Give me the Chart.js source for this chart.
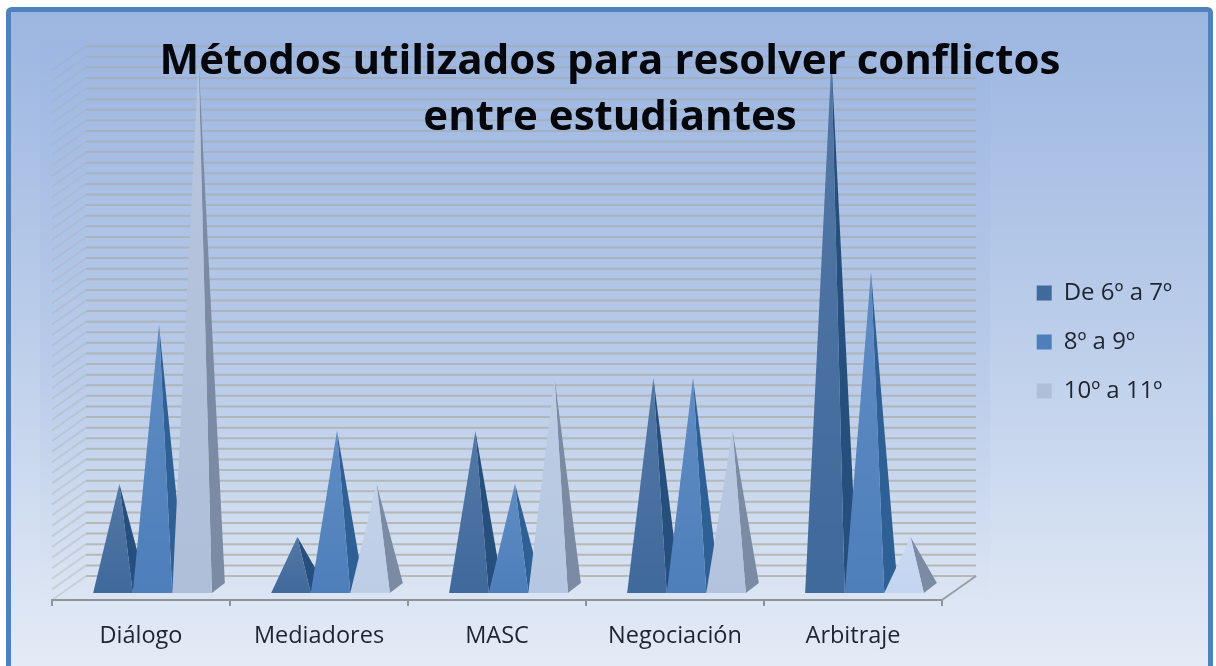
<!DOCTYPE html>
<html lang="es">
<head>
<meta charset="utf-8">
<title>Métodos utilizados para resolver conflictos entre estudiantes</title>
<style>html,body{margin:0;padding:0;background:#fff}canvas{display:block}</style>
<script src="https://cdn.jsdelivr.net/npm/chart.js@4/dist/chart.umd.js"></script>
</head>
<body>
<canvas id="c" width="1216" height="666"></canvas>
<script>
const titleLines = ['Métodos utilizados para resolver conflictos', 'entre estudiantes'];
const categories = ['Diálogo', 'Mediadores', 'MASC', 'Negociación', 'Arbitraje'];
const seriesNames = ['De 6º a 7º', '8º a 9º', '10º a 11º'];
const grade6to7 = [2, 1, 3, 4, 10];
const grade8to9 = [5, 3, 2, 4, 6];
const grade10to11 = [10, 2, 4, 3, 1];

// Styles
const darkFront = '#40699C', midFront = '#4E7FBB';
const lightFronts = ['#AFBFD9', '#BCCDE6', '#B6C7E1', '#B3C3DE', '#C3D5F0'];
const sides = ['#264F7E', '#2E5F95', '#7C8BA4'];
const GROUP_SHIFT = 11.5, BASE_UP = 7, SIDE_DX = 13, SIDE_DY = 10, APEX_DX = 6.5, APEX_UP = 10;
const WALL_DX = 34, WALL_DY = 24;

class PyramidElement extends Chart.BarElement {
  draw(ctx) {
    const {x, y, base, width} = this.getProps(['x', 'y', 'base', 'width'], false);
    const L = x - width / 2 + GROUP_SHIFT, R = x + width / 2 + GROUP_SHIFT;
    const by = base - BASE_UP;
    const ax = (L + R) / 2 + APEX_DX, ay = y - APEX_UP;
    ctx.save();
    ctx.fillStyle = this.options.borderColor;
    ctx.beginPath();
    ctx.moveTo(R, by); ctx.lineTo(R + SIDE_DX, by - SIDE_DY); ctx.lineTo(ax, ay); ctx.closePath();
    ctx.fill();
    ctx.fillStyle = this.options.backgroundColor;
    ctx.beginPath();
    ctx.moveTo(L, by); ctx.lineTo(R, by); ctx.lineTo(ax, ay); ctx.closePath();
    ctx.fill();
    const sheen = ctx.createLinearGradient(0, by, 0, ay);
    sheen.addColorStop(0, 'rgba(255,255,255,0)');
    sheen.addColorStop(1, 'rgba(255,255,255,0.10)');
    ctx.fillStyle = sheen;
    ctx.fill();
    ctx.restore();
  }
}
PyramidElement.id = 'pyramid';
PyramidElement.defaults = Chart.BarElement.defaults;
PyramidElement.defaultRoutes = Chart.BarElement.defaultRoutes;
class PyramidController extends Chart.BarController {}
PyramidController.id = 'pyramid';
PyramidController.defaults = Object.assign({}, Chart.BarController.defaults, {dataElementType: 'pyramid'});
PyramidController.overrides = Chart.BarController.overrides;
Chart.register(PyramidElement, PyramidController);

const stage = {
  id: 'stage',
  beforeLayout(chart) {
    const block = chart.titleBlock;
    if (block) block._layers = () => [{z: 5, draw(area) { block.draw(area); }}];
  },
  beforeDraw(chart) {
    const ctx = chart.ctx;
    ctx.save();
    const g = ctx.createLinearGradient(0, 10, 0, 666);
    g.addColorStop(0, '#9CB6E1');
    g.addColorStop(0.5, '#BCCEEA');
    g.addColorStop(1, '#E4EBF6');
    ctx.beginPath();
    ctx.roundRect(8.5, 9.5, 1202, 680, 3);
    ctx.fillStyle = g;
    ctx.fill();
    ctx.lineWidth = 5;
    ctx.strokeStyle = '#4F81BD';
    ctx.stroke();
    ctx.restore();
  },
  beforeDatasetDraw() { return false; },
  beforeDatasetsDraw(chart) {
    const ctx = chart.ctx, s = chart.scales.y, a = chart.chartArea;
    ctx.save();
    const wall = ctx.createLinearGradient(0, a.top - 30, 0, a.bottom + 6);
    wall.addColorStop(0, 'rgba(110,140,215,0.04)');
    wall.addColorStop(0.6, 'rgba(110,140,215,0.08)');
    wall.addColorStop(1, 'rgba(110,140,215,0)');
    ctx.fillStyle = wall;
    ctx.fillRect(a.left - 12, a.top - 30, a.right - a.left + 60, a.bottom - a.top + 36);
    ctx.lineWidth = 2;
    const n = s.ticks.length;
    s.ticks.forEach((t, i) => {
      const y = s.getPixelForValue(t.value);
      const f = 1 - i / n;
      ctx.strokeStyle = `rgba(165,165,150,${0.16 + 0.16 * f})`;
      ctx.beginPath();
      ctx.moveTo(a.left, y); ctx.lineTo(a.left + WALL_DX, y - WALL_DY);
      ctx.stroke();
      ctx.strokeStyle = `rgba(165,165,150,${0.42 + 0.24 * f})`;
      ctx.beginPath();
      ctx.moveTo(a.left + WALL_DX, y - WALL_DY); ctx.lineTo(a.right + WALL_DX, y - WALL_DY);
      ctx.stroke();
    });
    ctx.strokeStyle = '#9A9FA3';
    ctx.beginPath();
    ctx.moveTo(a.right, a.bottom); ctx.lineTo(a.right + WALL_DX, a.bottom - WALL_DY);
    ctx.stroke();
    ctx.restore();
  },
  afterDatasetsDraw(chart) {
    chart.data.datasets.forEach((d, i) => chart.getDatasetMeta(i).controller.draw());
  }
};

new Chart(document.getElementById('c'), {
  type: 'pyramid',
  plugins: [stage],
  data: {
    labels: categories,
    datasets: [
      {label: seriesNames[0], data: grade6to7, backgroundColor: darkFront, borderColor: sides[0]},
      {label: seriesNames[1], data: grade8to9, backgroundColor: midFront, borderColor: sides[1]},
      {label: seriesNames[2], data: grade10to11, backgroundColor: lightFronts, borderColor: sides[2]}
    ]
  },
  options: {
    responsive: false,
    animation: false,
    events: [],
    layout: {padding: {left: 38, right: 34, top: 32, bottom: 14}},
    datasets: {pyramid: {categoryPercentage: 0.667, barPercentage: 1, borderWidth: 0}},
    scales: {
      x: {
        type: 'category',
        afterFit(s) { s.height = 52; },
        grid: {drawOnChartArea: false, drawTicks: true, tickLength: 6, color: '#8E9498', lineWidth: 2, offset: true},
        border: {color: '#8E9498', width: 2},
        ticks: {font: {family: 'Open Sans', size: 23.5}, color: '#1E2530', padding: 16, maxRotation: 0}
      },
      y: {
        min: 0, max: 10,
        position: 'left',
        afterFit(s) { s.width = 14; },
        grid: {display: false},
        border: {display: false},
        ticks: {display: false, stepSize: 0.2, maxTicksLimit: 100, autoSkip: false}
      },
      gap: {
        min: 0, max: 10,
        position: 'right',
        afterFit(s) { s.width = 1216 - 34 - s.chart.legend.width - 942; },
        grid: {display: false},
        border: {display: false},
        ticks: {display: false}
      }
    },
    plugins: {
      tooltip: {enabled: false},
      title: {
        display: true,
        text: titleLines,
        color: '#05070C',
        font: {family: 'Open Sans', size: 42, weight: 'bold', lineHeight: 1.335},
        padding: {top: 2, bottom: -76}
      },
      legend: {
        position: 'right',
        labels: {
          font: {family: 'Open Sans', size: 24},
          color: '#1E2530',
          boxWidth: 15, boxHeight: 15,
          padding: 25
        }
      }
    }
  }
});
</script>
</body>
</html>
